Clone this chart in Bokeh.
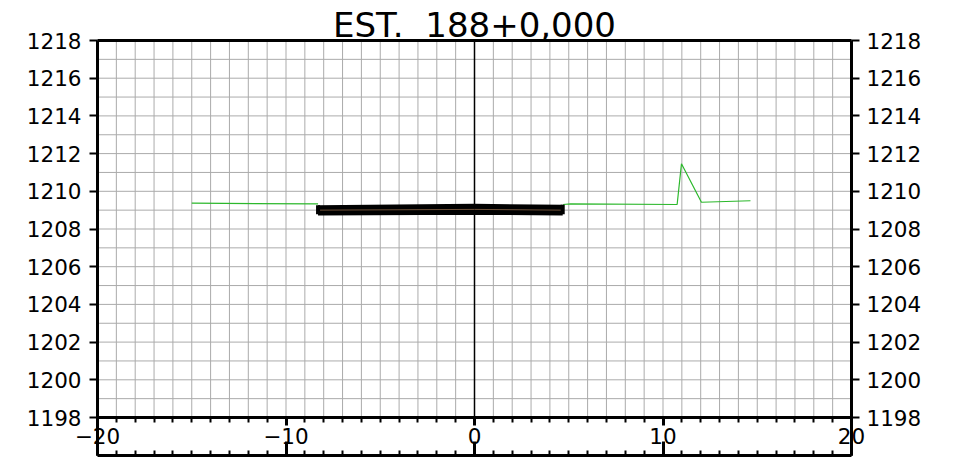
from bokeh.plotting import figure
from bokeh.models import LinearAxis, FixedTicker, Label, Range1d
from bokeh.embed import file_html
from bokeh.resources import INLINE

# ---- data ----
TITLE = "EST. \u00a0188+0,000"
X_START, X_END = -20, 20
Y_START, Y_END = 1198, 1218
STRIP_BOTTOM = 1196          # lower edge of the x-axis label strip
X_MAJOR = [-20, -10, 0, 10, 20]
X_LABELS = ["−20", "−10", "0", "10", "20"]
X_MINOR = list(range(-20, 21))
Y_MAJOR = list(range(1198, 1219, 2))
Y_GRID = list(range(1198, 1219))

ground_left_x = [-15.0, -8.3]
ground_left_y = [1209.37, 1209.33]
ground_right_x = [4.7, 5.1, 10.75, 10.98, 12.04, 14.64]
ground_right_y = [1209.30, 1209.33, 1209.30, 1211.46, 1209.42, 1209.50]

road_x = [-8.3, 0.0, 4.68]
road_top_y = [1209.12, 1209.19, 1209.14]
road_mid_y = [1209.00, 1209.04, 1209.00]
road_bot_y = [1208.86, 1208.90, 1208.86]

# ---- layout (pixels) ----
FONT = "DejaVu Sans"
W, H = 952, 458
PLOT_LEFT, PLOT_TOP, PLOT_W = 97, 40, 754
PX = PLOT_W / (X_END - X_START)          # pixels per unit (equal aspect)
x_lo = X_START - PLOT_LEFT / PX
x_hi = x_lo + W / PX
y_hi = Y_END + PLOT_TOP / PX
y_lo = y_hi - H / PX
TITLE_LIFT = 16                           # pixels above the top border

p = figure(frame_width=W, frame_height=H, min_border=0,
           x_range=Range1d(x_lo, x_hi), y_range=Range1d(y_lo, y_hi),
           x_axis_location=None, y_axis_location=None, title=None,
           output_backend="svg", toolbar_location=None)
p.outline_line_color = None
p.background_fill_color = "white"
p.border_fill_color = "white"
p.xgrid.visible = False
p.ygrid.visible = False

# grid
grid_color = "#ababab"
p.segment(x0=X_MINOR, y0=[Y_START] * len(X_MINOR), x1=X_MINOR, y1=[Y_END] * len(X_MINOR),
          line_color=grid_color, line_width=1)
p.segment(x0=[X_START] * len(Y_GRID), y0=Y_GRID, x1=[X_END] * len(Y_GRID), y1=Y_GRID,
          line_color=grid_color, line_width=1)

# x = 0 line
p.segment(x0=[0], y0=[Y_START], x1=[0], y1=[Y_END], line_color="black", line_width=1.5)

# ground
green = "#2cb82c"
p.line(ground_left_x, ground_left_y, line_color=green, line_width=1.2)
p.line(ground_right_x, ground_right_y, line_color=green, line_width=1.2)

# road section
p.line(road_x, road_top_y, line_color="black", line_width=5.5)
p.line(road_x, road_bot_y, line_color="black", line_width=5.5)
p.line(road_x, road_mid_y, line_color="#6e5038", line_width=1)
ends_x = [road_x[0], road_x[-1]]
p.segment(x0=ends_x, y0=[road_bot_y[0] - 0.08, road_bot_y[-1] - 0.08],
          x1=ends_x, y1=[road_top_y[0] + 0.14, road_top_y[-1] + 0.14],
          line_color="black", line_width=4)

# axes
x_ticker = FixedTicker(ticks=X_MAJOR, minor_ticks=X_MINOR)
xa = LinearAxis(fixed_location=Y_START, bounds=(X_START, X_END), ticker=x_ticker,
                major_label_overrides=dict(zip(X_MAJOR, X_LABELS)),
                major_tick_out=8, major_tick_in=0, minor_tick_out=5, minor_tick_in=0,
                major_label_standoff=2, axis_line_width=3, axis_line_color="black",
                major_tick_line_width=3, minor_tick_line_width=2,
                major_label_text_font=FONT, major_label_text_font_size="21.5px",
                major_label_text_color="black")
p.add_layout(xa, "below")

xb = LinearAxis(fixed_location=STRIP_BOTTOM, bounds=(X_START, X_END),
                ticker=FixedTicker(ticks=X_MAJOR, minor_ticks=X_MINOR),
                major_label_overrides={t: "" for t in X_MAJOR},
                major_tick_out=0, major_tick_in=14, minor_tick_out=0, minor_tick_in=5,
                axis_line_width=3, axis_line_color="black",
                major_tick_line_width=3, minor_tick_line_width=2,
                major_label_text_font_size="1px")
p.add_layout(xb, "below")

xt = LinearAxis(fixed_location=Y_END, bounds=(X_START, X_END),
                ticker=FixedTicker(ticks=[], minor_ticks=[]),
                major_tick_out=0, major_tick_in=0, minor_tick_out=0, minor_tick_in=0,
                axis_line_width=3, axis_line_color="black")
p.add_layout(xt, "above")

for side, loc, standoff in (("left", X_START, 8), ("right", X_END, 7)):
    ya = LinearAxis(fixed_location=loc, bounds=(STRIP_BOTTOM, Y_END),
                    ticker=FixedTicker(ticks=Y_MAJOR, minor_ticks=[]),
                    major_tick_out=8, major_tick_in=0, minor_tick_out=0, minor_tick_in=0,
                    major_label_standoff=standoff, axis_line_width=3, axis_line_color="black",
                    major_tick_line_width=2,
                    major_label_text_font=FONT, major_label_text_font_size="21.5px",
                    major_label_text_color="black")
    p.add_layout(ya, side)

title = Label(x=0, y=Y_END + TITLE_LIFT / PX, x_units="data", y_units="data", text=TITLE,
              text_align="center", text_baseline="alphabetic",
              text_font=FONT, text_font_size="34px", text_color="black")
p.add_layout(title)

open("out.html", "w").write(file_html(p, INLINE))
